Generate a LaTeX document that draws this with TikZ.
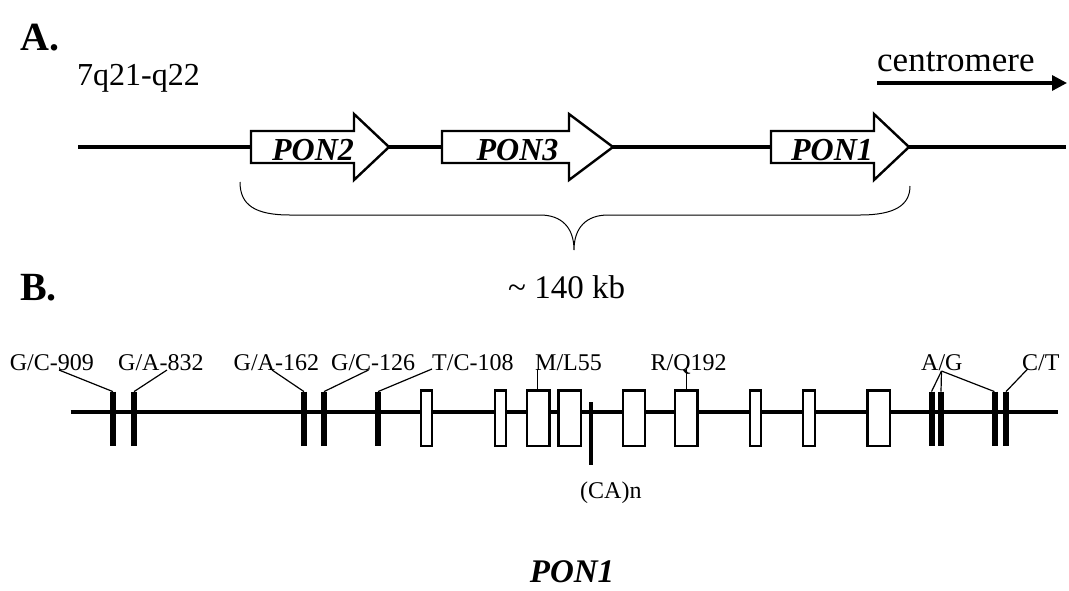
\documentclass[tikz,border=0pt]{standalone}
\usepackage{fontspec}
\setmainfont{Liberation Serif}
\usetikzlibrary{arrows.meta}

\begin{document}
\begin{tikzpicture}[x=1pt,y=-1pt,
  >={Triangle[length=15pt,width=15pt]},
  panel/.style={font=\fontsize{40}{48}\selectfont\bfseries,inner sep=0pt,anchor=base west},
  loclab/.style={font=\fontsize{32}{38}\selectfont,inner sep=0pt,anchor=base west},
  gname/.style={font=\fontsize{32}{38}\selectfont\bfseries\itshape,inner sep=0pt,anchor=base},
  snplab/.style={font=\fontsize{24}{28}\selectfont,inner sep=0pt,anchor=base west},
  chrom/.style={line width=3.5pt},
  genearrow/.style={draw,line width=2.4pt,fill=white,line join=miter},
  exon/.style={draw,line width=2.6pt,fill=white},
  snp/.style={line width=6pt},
  lead/.style={line width=1.2pt}]
  \useasboundingbox (0,0) rectangle (1069,590);

  % A. the PON cluster on 7q
  \node[panel]  (pa)   at (20,50)   {A.};
  \node[loclab] (band) at (77,85)   {7q21-q22};
  \node[loclab,font=\fontsize{35}{42}\selectfont] (cen) at (877,71) {centromere};
  \coordinate (c1) at (877,83);
  \coordinate (c2) at (1067,83);
  \draw[->,line width=3.3pt] (c1) -- (c2);

  \draw[chrom] (78,147) -- (1066,147);
  \foreach \xa/\xb/\xc in {251/354/389,442/569/613,771/874/909}
    \draw[genearrow] (\xa,131) -- (\xb,131) -- (\xb,114) -- (\xc,147)
      -- (\xb,180) -- (\xb,163) -- (\xa,163) -- cycle;
  \node[gname] (pon2) at (313,160)   {PON2};
  \node[gname] (pon3) at (517.5,160) {PON3};
  \node[gname] (pon1) at (832,160)   {PON1};

  \draw[line width=1pt] (240,182) .. controls (240,205) and (255,215) .. (290,215)
    -- (540,215) .. controls (562,215) and (574,228) .. (574,250)
    .. controls (574,228) and (586,215) .. (608,215)
    -- (860,215) .. controls (895,215) and (910,205) .. (910,186);
  \node[loclab,font=\fontsize{33}{40}\selectfont] (size) at (508,298) {\textasciitilde\ 140 kb};

  % B. PON1 gene
  \node[panel] (pb) at (20,300) {B.};
  \draw[line width=4pt] (70.6,412) -- (1058,412);
  \foreach \xa/\xb in {421/432,495/506,527/549.6,558.6/581,623/645,675/697.5,750/761,803/815,867.5/890}
    \draw[exon] (\xa,390.5) rectangle (\xb,446);
  \foreach \x/\n in {113/s909,134/s832,304/s162,324/s126,378/s108,931.5/sag1,941/sag2,994.5/sag3,1006/sct}{
    \draw[snp] (\x,391.6) -- (\x,446);
    \coordinate (\n) at (\x,391.6);
  }
  \draw[line width=4pt] (591,402) -- (591,465);
  \node[snplab] (ca) at (580,498) {(CA)n};

  \node[snplab] (l909) at (9.6,370)  {G/C-909};
  \node[snplab] (l832) at (118,370)  {G/A-832};
  \node[snplab] (l162) at (233.5,370) {G/A-162};
  \node[snplab] (l126) at (331,370)  {G/C-126};
  \node[snplab] (l108) at (432,370)  {T/C-108};
  \node[snplab] (lml)  at (535,370)  {M/L55};
  \node[snplab] (lrq)  at (650.5,370) {R/Q192};
  \node[snplab] (lag)  at (921,370)  {A/G};
  \node[snplab] (lct)  at (1022,370) {C/T};

  \coordinate (t909) at (59,370);
  \coordinate (t832) at (167,370);
  \coordinate (t162) at (272,370);
  \coordinate (t126) at (368.5,370);
  \coordinate (t108) at (432,369);
  \coordinate (tml)  at (537.6,369);
  \coordinate (tag)  at (941.5,371);
  \coordinate (tct)  at (1027.6,369);
  \coordinate (trq)  at (686.5,369);
  \draw[lead] (t909) -- (s909);
  \draw[lead] (t832) -- (s832);
  \draw[lead] (t162) -- (s162);
  \draw[lead] (t126) -- (s126);
  \draw[lead] (t108) -- (s108);
  \draw[lead] (tml) -- (537.6,390.5);
  \draw[lead] (trq) -- (686.5,390.5);
  \foreach \n in {sag1,sag2,sag3}
    \draw[lead] (tag) -- (\n);
  \draw[lead] (tct) -- (sct);

  \node[gname,font=\fontsize{33}{40}\selectfont\bfseries\itshape] (gene) at (572,582) {PON1};
\end{tikzpicture}
\end{document}
